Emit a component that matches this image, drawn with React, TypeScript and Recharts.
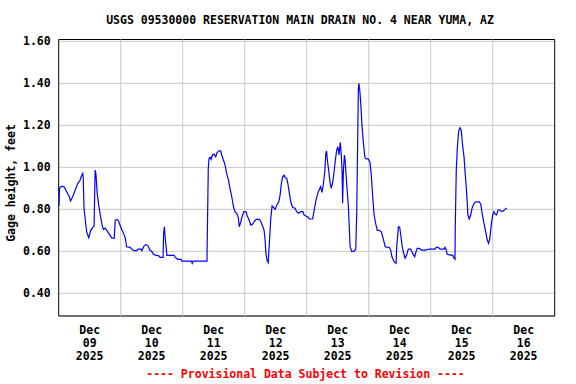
import React from "react";
import {
  CartesianGrid,
  Line,
  LineChart,
  ReferenceArea,
  ReferenceLine,
  XAxis,
  YAxis,
} from "recharts";

// hours since Dec 09 2025 00:00
const hours = [
  0.1, 0.3, 0.5, 1.5, 2.2, 3.1, 4.1, 4.6, 5.4, 6.4, 7.4, 8.2, 8.7, 9.3, 9.5, 9.8,
  10.3, 10.8, 11.6, 12.4, 13.2, 13.7, 14.1, 14.4, 14.9, 15.5, 16.1, 16.8, 17.3, 18.0,
  19.0, 19.6, 20.6, 21.5, 21.9, 22.5, 23.2, 23.7, 24.4, 25.2, 25.8, 26.3, 27.6, 29.0,
  30.2, 30.7, 31.9, 32.2, 33.0, 33.8, 34.6, 35.3, 36.1, 36.6, 37.4, 38.9, 39.2, 40.4,
  40.6, 40.9, 41.3, 41.9, 44.7, 45.1, 46.1, 47.3, 47.7, 51.4, 51.7, 52.0, 57.4, 57.5,
  57.9, 58.2, 58.6, 59.0, 59.5, 60.1, 60.8, 61.3, 62.1, 62.7, 63.1, 63.7, 64.4, 65.0,
  65.7, 66.3, 67.0, 67.6, 68.2, 68.9, 69.5, 69.9, 70.5, 71.0, 71.7, 72.5, 73.0, 73.7,
  74.4, 75.1, 75.6, 76.4, 77.7, 78.3, 79.0, 79.5, 79.9, 80.2, 80.7, 81.1, 81.5, 82.1,
  82.6, 83.1, 83.8, 84.4, 85.2, 85.7, 86.2, 86.7, 87.2, 87.7, 88.3, 88.8, 89.3, 89.9,
  90.6, 91.5, 92.1, 92.8, 93.7, 94.5, 95.0, 95.7, 96.6, 97.0, 97.8, 98.3, 98.8, 99.6,
  100.5, 101.4, 101.9, 102.4, 103.0, 103.4, 103.7, 104.0, 104.5, 105.0, 105.5, 106.1,
  106.6, 107.1, 107.6, 108.1, 108.5, 109.0, 109.4, 109.7, 109.9, 110.2, 110.6, 110.9,
  111.5, 112.1, 112.5, 112.8, 113.4, 114.3, 115.0, 115.4, 115.6, 116.0, 116.2, 116.6,
  117.0, 117.4, 117.9, 118.5, 119.0, 119.8, 120.5, 121.0, 121.6, 122.1, 122.7, 123.3,
  124.1, 124.9, 125.4, 125.9, 126.4, 128.0, 128.5, 129.0, 129.8, 130.6, 130.8, 131.5,
  132.0, 132.4, 132.9, 133.4, 134.1, 134.7, 135.3, 136.3, 137.0, 137.8, 138.3, 138.8,
  139.6, 140.5, 141.8, 143.5, 145.7, 146.1, 146.9, 147.6, 149.2, 149.5, 149.9, 150.4,
  151.7, 152.5, 153.0, 153.4, 153.5, 153.9, 154.3, 154.8, 155.3, 155.8, 156.4, 156.9,
  157.3, 157.7, 158.1, 158.4, 158.9, 159.5, 160.0, 160.8, 161.5, 162.8, 163.4, 163.9,
  164.4, 164.9, 165.4, 165.9, 166.4, 166.9, 167.5, 168.0, 168.5, 169.0, 169.5, 170.1,
  170.8, 171.6, 172.1, 172.8, 173.4,
];

// gage height, feet
const gage = [
  0.816, 0.89, 0.905, 0.91, 0.905, 0.884, 0.86, 0.84, 0.86, 0.892, 0.924, 0.936, 0.955,
  0.971, 0.949, 0.805, 0.749, 0.693, 0.665, 0.7, 0.714, 0.72, 0.987, 0.97, 0.876, 0.82,
  0.773, 0.725, 0.705, 0.711, 0.693, 0.682, 0.663, 0.663, 0.749, 0.752, 0.744, 0.725,
  0.705, 0.682, 0.662, 0.622, 0.619, 0.603, 0.603, 0.611, 0.611, 0.603, 0.625, 0.633,
  0.625, 0.606, 0.598, 0.587, 0.582, 0.578, 0.571, 0.571, 0.686, 0.717, 0.654, 0.581,
  0.581, 0.571, 0.562, 0.562, 0.553, 0.553, 0.543, 0.553, 0.553, 0.654, 0.995, 1.043,
  1.048, 1.038, 1.059, 1.063, 1.05, 1.07, 1.079, 1.079, 1.059, 1.038, 1.011, 0.971, 0.94,
  0.9, 0.86, 0.816, 0.789, 0.781, 0.762, 0.717, 0.741, 0.768, 0.789, 0.789, 0.768, 0.749,
  0.725, 0.73, 0.741, 0.752, 0.752, 0.741, 0.717, 0.7, 0.654, 0.59, 0.555, 0.546, 0.63,
  0.757, 0.816, 0.81, 0.8, 0.82, 0.836, 0.868, 0.924, 0.955, 0.963, 0.95, 0.948, 0.916,
  0.876, 0.831, 0.809, 0.805, 0.789, 0.781, 0.789, 0.789, 0.773, 0.768, 0.762, 0.754,
  0.754, 0.754, 0.789, 0.844, 0.884, 0.908, 0.881, 0.916, 0.979, 1.067, 1.078, 1.035,
  0.987, 0.931, 0.9, 0.931, 0.979, 1.035, 1.082, 1.098, 1.059, 1.119, 1.059, 0.979, 0.829,
  0.98, 1.059, 1.03, 0.916, 0.82, 0.71, 0.622, 0.6, 0.6, 0.611, 0.805, 1.003, 1.376, 1.4,
  1.36, 1.289, 1.201, 1.122, 1.05, 1.04, 1.04, 1.024, 0.963, 0.852, 0.773, 0.733, 0.7, 0.7,
  0.693, 0.67, 0.646, 0.622, 0.618, 0.606, 0.574, 0.551, 0.543, 0.614, 0.717, 0.714,
  0.678, 0.63, 0.598, 0.567, 0.582, 0.611, 0.611, 0.59, 0.574, 0.598, 0.614, 0.614,
  0.606, 0.606, 0.611, 0.611, 0.619, 0.619, 0.611, 0.611, 0.619, 0.611, 0.586, 0.582,
  0.582, 0.567, 0.562, 0.71, 0.987, 1.09, 1.17, 1.189, 1.178, 1.098, 1.05, 0.979, 0.916,
  0.844, 0.773, 0.754, 0.773, 0.805, 0.829, 0.836, 0.836, 0.824, 0.781, 0.749, 0.717,
  0.686, 0.654, 0.638, 0.662, 0.733, 0.773, 0.789, 0.776, 0.773, 0.797, 0.797, 0.789,
  0.792, 0.8, 0.806,
];

const dayTicks = [12, 36, 60, 84, 108, 132, 156, 180];
const dayLabels = ["09", "10", "11", "12", "13", "14", "15", "16"];
const midnights = [24, 48, 72, 96, 120, 144, 168];
const yTicks = [0.4, 0.6, 0.8, 1.0, 1.2, 1.4, 1.6];

const X_MIN = 0;
const X_MAX = 192;
const Y_MIN = 0.292;
const Y_MAX = 1.609;

const FONT = "'DejaVu Sans Mono', monospace";

const data = hours.map((h, i) => ({ h, v: gage[i] }));

function DayTick(props: any) {
  const { x, y, payload } = props;
  const i = dayTicks.indexOf(payload.value);
  return (
    <text
      x={x}
      y={y}
      textAnchor="middle"
      fontFamily={FONT}
      fontWeight="bold"
      fontSize={11.5}
      fill="#000"
    >
      <tspan x={x} dy={10}>Dec</tspan>
      <tspan x={x} dy={13}>{dayLabels[i]}</tspan>
      <tspan x={x} dy={13}>2025</tspan>
    </text>
  );
}

export default function App() {
  return (
    <div
      style={{
        position: "absolute",
        left: 0,
        top: 0,
        width: 576,
        height: 384,
        background: "#fff",
      }}
    >
      <LineChart
        width={576}
        height={384}
        data={data}
        margin={{ top: 39.5, right: 21.3, bottom: 38, left: 8.7 }}
      >
        <CartesianGrid vertical={false} stroke="#c8c8c8" />
        {midnights.map((m) => (
          <ReferenceLine key={m} x={m} stroke="#c8c8c8" />
        ))}
        <XAxis
          dataKey="h"
          type="number"
          height={30}
          domain={[X_MIN, X_MAX]}
          ticks={dayTicks}
          tickLine={false}
          axisLine={false}
          tick={<DayTick />}
          interval={0}
          allowDataOverflow
        />
        <YAxis
          type="number"
          width={50}
          domain={[Y_MIN, Y_MAX]}
          ticks={yTicks}
          tickLine={false}
          axisLine={false}
          interval={0}
          allowDataOverflow
          tickFormatter={(v: number) => v.toFixed(2)}
          tick={{
            fill: "#000",
            fontFamily: FONT,
            fontWeight: "bold",
            fontSize: 11.5,
          }}
        />
        <Line
          type="linear"
          dataKey="v"
          stroke="#0000ff"
          strokeWidth={1.2}
          dot={false}
          isAnimationActive={false}
        />
        <ReferenceArea
          x1={X_MIN}
          x2={X_MAX}
          y1={Y_MIN}
          y2={Y_MAX}
          fill="none"
          fillOpacity={0}
          stroke="#000"
          strokeWidth={1}
        />
      </LineChart>
      <svg
        width={576}
        height={384}
        style={{ position: "absolute", left: 0, top: 0, pointerEvents: "none" }}
        fontFamily={FONT}
        fontWeight="bold"
        fontSize={11.5}
      >
        <text x={300} y={24} textAnchor="middle" fill="#000">
          USGS 09530000 RESERVATION MAIN DRAIN NO. 4 NEAR YUMA, AZ
        </text>
        <text
          transform="translate(15,183) rotate(-90)"
          textAnchor="middle"
          fill="#000"
        >
          Gage height, feet
        </text>
        <text x={305.5} y={378} textAnchor="middle" fill="#ff0000">
          ---- Provisional Data Subject to Revision ----
        </text>
      </svg>
    </div>
  );
}
